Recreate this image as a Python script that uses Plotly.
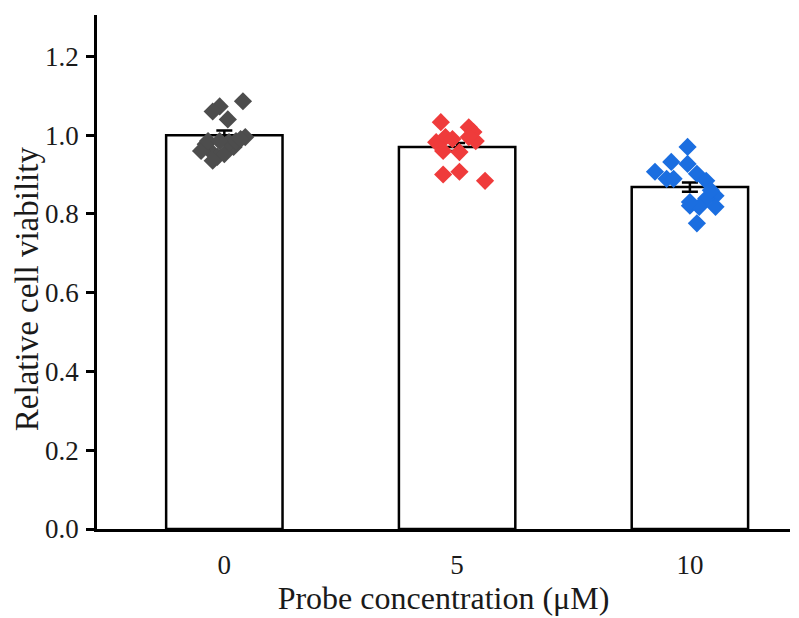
import plotly.graph_objects as go

categories = ["0", "5", "10"]
means = [1.000, 0.970, 0.868]
errors = [0.012, 0.010, 0.012]

# individual points: (x offset within category, value)
g0_off = [0.08, -0.02, -0.05, 0.015, 0.09, -0.08, -0.06, -0.03, 0.0, 0.04, 0.02, 0.05, -0.05, -0.10, -0.07, 0.07, -0.02]
g0_val = [1.086, 1.073, 1.060, 1.040, 0.995, 0.977, 0.960, 0.945, 0.952, 0.970, 0.982, 0.985, 0.935, 0.960, 0.985, 0.990, 0.985]
g1_off = [-0.07, 0.05, 0.07, -0.09, -0.05, -0.02, 0.08, -0.06, 0.01, -0.06, 0.01, 0.12, 0.05]
g1_val = [1.033, 1.020, 1.008, 0.982, 0.995, 0.990, 0.985, 0.960, 0.957, 0.900, 0.907, 0.884, 0.995]
g2_off = [-0.01, -0.08, -0.01, -0.15, -0.10, -0.07, 0.03, 0.07, 0.11, 0.07, 0.00, 0.04, 0.11, 0.03, 0.00, 0.09]
g2_val = [0.970, 0.932, 0.927, 0.907, 0.889, 0.889, 0.902, 0.884, 0.846, 0.839, 0.821, 0.818, 0.818, 0.776, 0.830, 0.860]

colors = ["#4d4d4d", "#ef3b3b", "#1b6ee0"]
font = "Liberation Serif"

fig = go.Figure()
xs = [0, 1, 2]
fig.add_trace(go.Bar(x=xs, y=means, width=0.5, marker=dict(color="white", line=dict(width=0)),
                     showlegend=False, hoverinfo="skip"))
for i, (off, val) in enumerate([(g0_off, g0_val), (g1_off, g1_val), (g2_off, g2_val)]):
    fig.add_trace(go.Scatter(x=[xs[i] + o for o in off], y=val, mode="markers",
                             marker=dict(symbol="diamond", size=14, color=colors[i], line=dict(width=0)),
                             showlegend=False))
fig.add_trace(go.Bar(x=xs, y=means, width=0.5,
                     marker=dict(color="rgba(0,0,0,0)", line=dict(color="black", width=2.5)),
                     error_y=dict(type="data", array=errors, color="black", thickness=2.5, width=8),
                     showlegend=False))

fig.update_layout(
    width=799, height=618,
    margin=dict(l=97, r=9, t=15, b=84),
    plot_bgcolor="white", paper_bgcolor="white",
    font=dict(family=font, size=27, color="#1a1a1a"),
    barmode="overlay",
    xaxis=dict(range=[-0.547, 2.43], tickmode="array", tickvals=xs, ticktext=categories,
               showline=True, linecolor="black", linewidth=2.5, ticks="", showgrid=False,
               zeroline=False, ticklabelstandoff=10,
               title=dict(text="Probe concentration (μM)", font=dict(size=32), standoff=6)),
    yaxis=dict(range=[0, 1.305], tickvals=[0, 0.2, 0.4, 0.6, 0.8, 1.0, 1.2],
               tickformat=".1f", showline=True, linecolor="black", linewidth=2.5,
               ticks="outside", ticklen=8, tickwidth=2.5, tickcolor="black",
               showgrid=False, zeroline=False, ticklabelstandoff=2),
    annotations=[dict(text="Relative cell viability", textangle=-90, showarrow=False,
                      xref="paper", yref="paper", x=-0.1, y=0.468,
                      xanchor="center", yanchor="middle", font=dict(size=33))],
)
fig.write_html("out.html")
